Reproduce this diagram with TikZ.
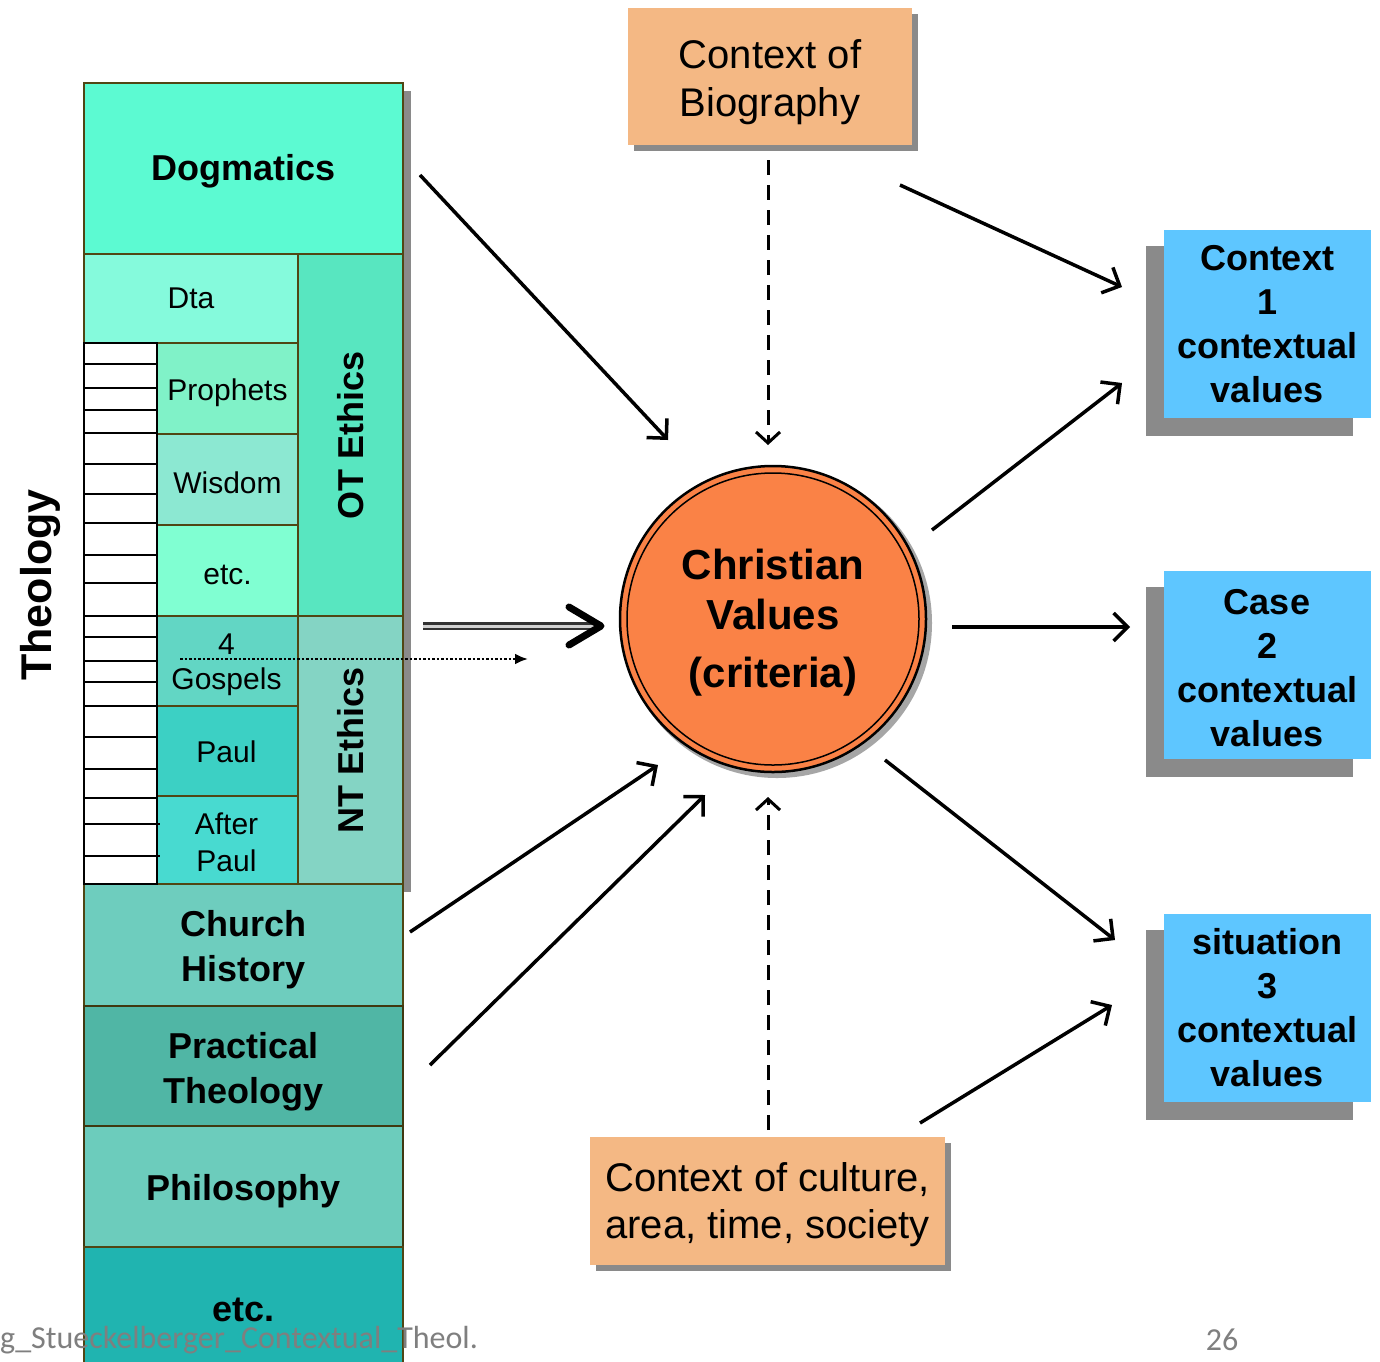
\documentclass[tikz,border=0pt]{standalone}
\usepackage{fontspec}
\setmainfont{Liberation Sans}
\newfontfamily\footfont{Carlito}
\usetikzlibrary{arrows.meta}
\newcommand\tpush[1]{\rule{0pt}{#1}}
\definecolor{bord}{HTML}{504614}
\definecolor{cDog}{HTML}{5CFAD2}
\definecolor{cDta}{HTML}{85FADC}
\definecolor{cOT}{HTML}{58E6C0}
\definecolor{cPro}{HTML}{80F2C8}
\definecolor{cWis}{HTML}{8CE8D2}
\definecolor{cEtc}{HTML}{80FFD2}
\definecolor{cGos}{HTML}{62D6C4}
\definecolor{cNT}{HTML}{84D4C4}
\definecolor{cPaul}{HTML}{3CD0C4}
\definecolor{cAfter}{HTML}{48DAD0}
\definecolor{cCh}{HTML}{6ECDBE}
\definecolor{cPT}{HTML}{50B6A5}
\definecolor{cPhil}{HTML}{6CCCBC}
\definecolor{cEtcB}{HTML}{20B4B0}
\definecolor{cOrange}{HTML}{F4B884}
\definecolor{cCircle}{HTML}{FA8246}
\definecolor{cBlue}{HTML}{5EC6FF}
\definecolor{shadowgray}{HTML}{8A8A8A}
\definecolor{footgray}{HTML}{7F7F7F}
\begin{document}
\begin{tikzpicture}[x=1pt,y=-1pt,
  cell/.style={draw=bord, line width=1.5pt, inner sep=0pt, outer sep=0pt, align=center},
  bigb/.style={font=\fontsize{36}{45}\selectfont\bfseries},
  small/.style={font=\fontsize{30}{35}\selectfont},
  ctxbox/.style={fill=cOrange, inner sep=0pt, outer sep=0pt, align=center, font=\fontsize{40}{48}\selectfont},
  bluebox/.style={fill=cBlue, inner sep=0pt, outer sep=0pt, align=center, minimum width=207pt, minimum height=188pt, font=\fontsize{36}{44}\selectfont\bfseries},
  arr/.style={line width=3.5pt, -{Straight Barb[length=14pt,width=28pt]}},
  dasharr/.style={line width=3pt, dash pattern=on 15pt off 10pt, -{Straight Barb[length=11pt,width=24pt]}},
  dotarr/.style={line width=2.5pt, dash pattern=on 2.5pt off 2pt, -{Latex[length=13pt,width=11pt]}},
  dbl/.style={line width=2.5pt, draw=black!80, double=gray!35, double distance=3pt}
]
\useasboundingbox (0,0) rectangle (1380,1361);
\fill[white] (0,0) rectangle (1380,1361);

% ---- left column ----
\fill[shadowgray] (92,91) rectangle (411,892);
\node[cell, fill=cDog, minimum width=319pt, minimum height=171pt, font=\fontsize{36}{40}\selectfont\bfseries] (dog) at (243.5,168.5) {\tpush{32pt}Dogmatics};
\node[cell, fill=cDta, minimum width=214pt, minimum height=89pt, small] (dta) at (191,298.5) {Dta};
\node[cell, fill=cOT, minimum width=362pt, minimum height=105pt, rotate=90, font=\fontsize{36}{40}\selectfont\bfseries] (ot) at (350.5,435) {OT Ethics};
\node[cell, fill=cPro, minimum width=141pt, minimum height=91pt, small] (pro) at (227.5,388.5) {\tpush{30pt}Prophets};
\node[cell, fill=cWis, minimum width=141pt, minimum height=91pt, small] (wis) at (227.5,479.5) {\tpush{28pt}Wisdom};
\node[cell, fill=cEtc, minimum width=141pt, minimum height=91pt, small] (etca) at (227.5,570.5) {\tpush{28pt}etc.};
\node[cell, fill=cGos, minimum width=143pt, minimum height=90pt, small] (gos) at (226.5,661) {\tpush{29pt}4\\Gospels};
\node[cell, fill=cPaul, minimum width=143pt, minimum height=90pt, small] (paul) at (226.5,751) {\tpush{24pt}Paul};
\node[cell, fill=cAfter, minimum width=143pt, minimum height=88pt, font=\fontsize{30}{37}\selectfont] (after) at (226.5,840) {\tpush{26pt}After\\Paul};
\node[cell, fill=cNT, minimum width=268pt, minimum height=105pt, rotate=90, font=\fontsize{36}{40}\selectfont\bfseries] (nt) at (350.5,750) {NT Ethics};
\node[cell, fill=cCh, minimum width=319pt, minimum height=122pt, bigb] (ch) at (243.5,945) {\tpush{36pt}Church\\History};
\node[cell, fill=cPT, minimum width=319pt, minimum height=120pt, bigb, line width=2.5pt, draw=bord!80!black] (pt) at (243.5,1066) {\tpush{37pt}Practical\\Theology};
\node[cell, fill=cPhil, minimum width=319pt, minimum height=121pt, bigb, line width=2.5pt, draw=bord!80!black] (phil) at (243.5,1186.5) {\tpush{36pt}Philosophy};
\node[cell, fill=cEtcB, minimum width=319pt, minimum height=120pt, bigb] (etcb) at (243.5,1307) {\tpush{29pt}etc.};

% ladder
\draw[fill=white, line width=2pt] (84,343) rectangle (157,884);
\foreach \yy in {364,388,410,433,464,494,523,555,583,616,637,661,682,706,737,769,798}
  \draw[line width=2pt] (84,\yy) -- (157,\yy);
\foreach \yy in {824,856}
  \draw[line width=2pt] (84,\yy) -- (160,\yy);

\node[rotate=90, font=\fontsize{43}{48}\selectfont\bfseries] (theo) at (40,585) {Theology};

% ---- context boxes ----
\fill[shadowgray] (634,14) rectangle (918,151);
\node[ctxbox, minimum width=284pt, minimum height=137pt] (bio) at (770,76.5) {\tpush{40pt}Context of\\Biography};
\fill[shadowgray] (596,1143) rectangle (951,1271);
\node[ctxbox, minimum width=355pt, minimum height=128pt, font=\fontsize{40}{47}\selectfont] (cult) at (767.5,1201) {\tpush{37pt}Context of culture,\\area, time, society};

% ---- circle ----
\fill[gray!70] (777,623) circle (155pt);
\node[circle, fill=cCircle, draw=black, line width=2.5pt, minimum size=306pt, inner sep=0pt, align=center, font=\fontsize{42}{50}\selectfont\bfseries] (cv) at (773,619) {\tpush{37pt}Christian\\Values\\[8pt](criteria)};
\draw[line width=1.5pt] (cv.center) circle (146pt);

% ---- right boxes ----
\fill[shadowgray] (1146,246) rectangle (1353,436);
\node[bluebox] (c1) at (1267,324) {Context\\1\\contextual\\values};
\fill[shadowgray] (1146,587) rectangle (1353,777);
\node[bluebox] (c2) at (1267,665) {\tpush{32pt}Case\\2\\contextual\\values};
\fill[shadowgray] (1146,930) rectangle (1353,1120);
\node[bluebox] (c3) at (1267,1008) {situation\\3\\contextual\\values};

% ---- connectors ----
\coordinate (a1s) at (420,175);   \coordinate (a1e) at (668,440);
\coordinate (a2s) at (768,160);   \coordinate (a2e) at (768,445);
\coordinate (a3s) at (900,185);   \coordinate (a3e) at (1122,287);
\coordinate (a4s) at (932,530);   \coordinate (a4e) at (1122,383);
\coordinate (a5s) at (423,626);   \coordinate (a5e) at (596,626); \coordinate (a5t) at (601,626);
\coordinate (a6s) at (180,659);   \coordinate (a6e) at (528,659);
\coordinate (a7s) at (952,627);   \coordinate (a7e) at (1130,627);
\coordinate (a8s) at (410,932);   \coordinate (a8e) at (658,765);
\coordinate (a9s) at (430,1065);  \coordinate (a9e) at (705,795);
\coordinate (a10s) at (768,1130); \coordinate (a10e) at (768,797);
\coordinate (a11s) at (885,760);  \coordinate (a11e) at (1115,940);
\coordinate (a12s) at (920,1123); \coordinate (a12e) at (1112,1005);

\draw[arr] (a1s) -- (a1e);
\draw[dasharr] (a2s) -- (a2e);
\draw[arr] (a3s) -- (a3e);
\draw[arr] (a4s) -- (a4e);
\draw[dbl] (a5s) -- (a5e);
\draw[line width=7pt, line cap=round, line join=round] (569,607) -- (a5t) -- (569,645);
\draw[dotarr] (a6s) -- (a6e);
\draw[arr] (a7s) -- (a7e);
\draw[arr] (a8s) -- (a8e);
\draw[arr] (a9s) -- (a9e);
\draw[dasharr] (a10s) -- (a10e);
\draw[arr] (a11s) -- (a11e);
\draw[arr] (a12s) -- (a12e);

% ---- footer ----
\node[anchor=west, inner sep=0pt, text=footgray, font=\footfont\fontsize{32}{36}\selectfont] (foot) at (0,1340) {g\_Stueckelberger\_Contextual\_Theol.};
\node[inner sep=0pt, text=footgray, font=\footfont\fontsize{32}{36}\selectfont] (pg) at (1222,1340) {26};
\end{tikzpicture}
\end{document}
